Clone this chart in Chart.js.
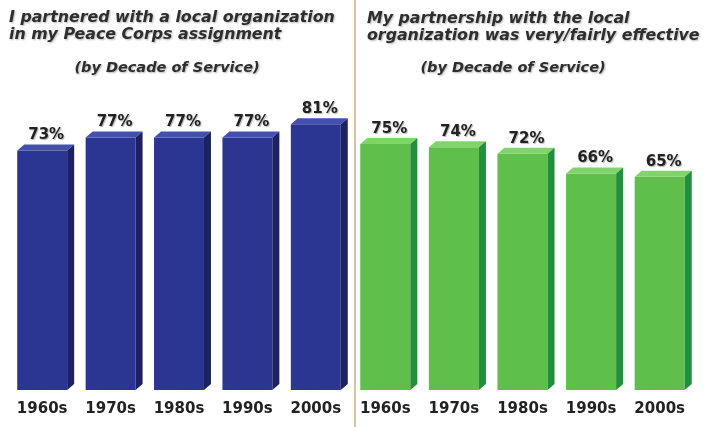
<!DOCTYPE html>
<html>
<head>
<meta charset="utf-8">
<script src="https://cdn.jsdelivr.net/npm/chart.js@4"></script>
<style>
  html, body { margin: 0; padding: 0; background: #fff; }
  #page { position: relative; width: 704px; height: 427px; overflow: hidden; font-family: "DejaVu Sans", sans-serif; }
  .box { position: absolute; top: 0; height: 438px; }
  .title { position: absolute; font-weight: bold; font-style: italic; font-size: 15.8px; line-height: 17px; color: #2e2e2e; text-shadow: 1px 1px 2px rgba(0,0,0,0.3); white-space: nowrap; }
  .sub { position: absolute; width: 240px; text-align: center; font-weight: bold; font-style: italic; font-size: 14.5px; color: #2e2e2e; text-shadow: 1px 1px 2px rgba(0,0,0,0.3); }
  #divider { position: absolute; left: 354px; top: 0; width: 2px; height: 427px; background: #dcc19a; }
</style>
</head>
<body>
<div id="page">
  <div class="box" style="left:0;width:354px"><canvas id="leftChart"></canvas></div>
  <div class="box" style="left:340px;width:364px"><canvas id="rightChart"></canvas></div>
  <div id="divider"></div>
  <div class="title" style="left:9px;top:8px">I partnered with a local organization<br>in my Peace Corps assignment</div>
  <div class="sub" style="left:47px;top:59px">(by Decade of Service)</div>
  <div class="title" style="left:367px;top:9px">My partnership with the local<br>organization was very/fairly effective</div>
  <div class="sub" style="left:393px;top:59px">(by Decade of Service)</div>
</div>
<script>
// decades on the x axis (same for both panels)
const decades = ["1960s", "1970s", "1980s", "1990s", "2000s"];

// % who partnered with a local organization
const partnered = [73, 77, 77, 77, 81];

// % saying the partnership was very/fairly effective
const effective = [75, 74, 72, 66, 65];

// fake 3D: top and side faces plus the % label, from each bar element
const bar3d = {
  id: "bar3d",
  afterDatasetsDraw(chart, args, opts) {
    const ctx = chart.ctx;
    const dx = 7, dy = -6;
    const meta = chart.getDatasetMeta(0);
    const values = chart.data.datasets[0].data;
    meta.data.forEach((bar, i) => {
      const p = bar.getProps(["x", "y", "base", "width"], true);
      const l = p.x - p.width / 2, r = p.x + p.width / 2;
      ctx.save();
      // top face
      ctx.fillStyle = opts.top;
      ctx.beginPath();
      ctx.moveTo(l, p.y);
      ctx.lineTo(l + dx, p.y + dy);
      ctx.lineTo(r + dx, p.y + dy);
      ctx.lineTo(r, p.y);
      ctx.closePath();
      ctx.fill();
      // side face
      ctx.fillStyle = opts.side;
      ctx.beginPath();
      ctx.moveTo(r, p.y);
      ctx.lineTo(r + dx, p.y + dy);
      ctx.lineTo(r + dx, p.base + dy);
      ctx.lineTo(r, p.base);
      ctx.closePath();
      ctx.fill();
      // value label
      ctx.fillStyle = "#222";
      ctx.shadowColor = "rgba(0,0,0,0.3)";
      ctx.shadowOffsetX = 1;
      ctx.shadowOffsetY = 1;
      ctx.shadowBlur = 1;
      ctx.font = "bold 15px 'DejaVu Sans', sans-serif";
      ctx.textAlign = "center";
      ctx.textBaseline = "middle";
      ctx.fillText(values[i] + "%", p.x + 4, p.y - 15);
      ctx.restore();
    });
  }
};

function makeChart(id, values, colors, pad) {
  new Chart(document.getElementById(id), {
    type: "bar",
    data: {
      labels: decades,
      datasets: [{
        data: values,
        backgroundColor: colors.front,
        borderWidth: 0,
        categoryPercentage: 1,
        barPercentage: 0.73
      }]
    },
    options: {
      responsive: true,
      maintainAspectRatio: false,
      animation: false,
      layout: { padding: { left: pad.left, right: pad.right, top: 62, bottom: 10 } },
      plugins: {
        legend: { display: false },
        tooltip: { enabled: false },
        bar3d: colors
      },
      scales: {
        y: { display: false, min: 0, max: 100 },
        x: {
          grid: { display: false, drawTicks: false },
          border: { display: false },
          ticks: {
            color: "#222",
            padding: 10,
            font: { family: "'DejaVu Sans', sans-serif", size: 15, weight: "bold" }
          }
        }
      }
    },
    plugins: [bar3d]
  });
}

makeChart("leftChart", partnered,
  { front: "#2b3592", top: "#4450b0", side: "#1b2163" },
  { left: 8, right: 4 });

makeChart("rightChart", effective,
  { front: "#5ec04a", top: "#80d46b", side: "#20903c" },
  { left: 11, right: 10 });
</script>
</body>
</html>
